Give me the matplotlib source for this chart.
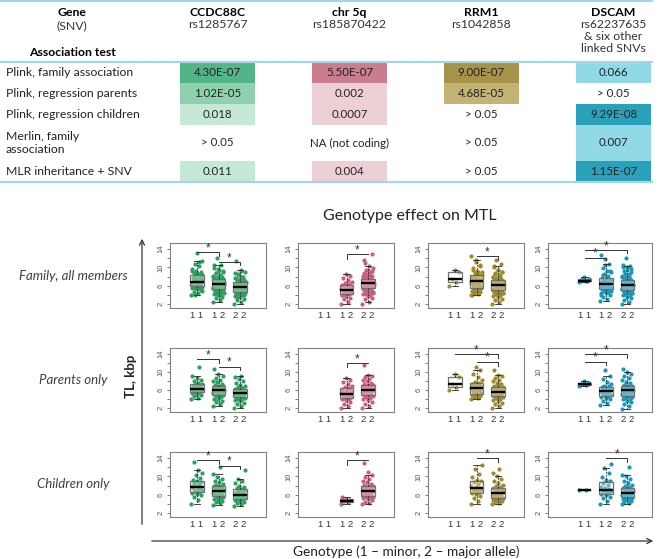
import matplotlib
matplotlib.use("Agg")
import matplotlib.pyplot as plt
import numpy as np
from matplotlib.patches import Rectangle

plt.rcParams['font.family'] = ['Lato', 'DejaVu Sans']

# ---- table data ----
genes = ["CCDC88C", "chr 5q", "RRM1", "DSCAM"]
snvs = ["rs1285767", "rs185870422", "rs1042858", "rs62237635\n& six other\nlinked SNVs"]
tests = ["Plink, family association", "Plink, regression parents",
         "Plink, regression children", "Merlin, family\nassociation",
         "MLR inheritance + SNV"]
pvals = [["4.30E-07", "5.50E-07", "9.00E-07", "0.066"],
         ["1.02E-05", "0.002", "4.68E-05", "> 0.05"],
         ["0.018", "0.0007", "> 0.05", "9.29E-08"],
         ["> 0.05", "NA (not coding)", "> 0.05", "0.007"],
         ["0.011", "0.004", "> 0.05", "1.15E-07"]]

# ---- telomere length (kbp) per group: parents / children ----
ccdc_p11 = [3.9, 4.3, 4.7, 5.0, 5.2, 5.4, 5.5, 5.6, 5.7, 5.8, 5.9, 6.0, 6.1, 6.2,
            6.2, 6.3, 6.5, 6.7, 6.9, 7.1, 7.3, 7.4, 7.6, 7.9, 8.3, 8.7, 9.1, 11.2]
ccdc_c11 = [3.9, 4.8, 5.6, 5.9, 6.2, 6.4, 6.5, 6.8, 7.0, 7.2, 7.5, 7.6, 7.8, 8.0,
            8.3, 8.6, 8.8, 9.0, 9.2, 9.6, 10.2, 10.8, 11.4, 13.1]
ccdc_p12 = [2.5, 2.9, 3.3, 3.6, 3.9, 4.1, 4.4, 4.6, 4.8, 4.9, 5.0, 5.1, 5.3, 5.4,
            5.5, 5.6, 5.7, 5.8, 5.9, 6.0, 6.0, 6.1, 6.2, 6.3, 6.4, 6.5, 6.6, 6.7,
            6.8, 6.9, 7.0, 7.2, 7.4, 7.7, 8.0, 8.3, 8.7, 9.1, 9.6, 10.6]
ccdc_c12 = [3.7, 4.1, 4.4, 4.7, 4.9, 5.1, 5.3, 5.4, 5.5, 5.7, 5.9, 6.0, 6.2, 6.3,
            6.5, 6.6, 6.7, 6.8, 6.8, 6.9, 7.0, 7.1, 7.3, 7.4, 7.5, 7.7, 7.8, 7.9,
            8.1, 8.4, 8.7, 9.0, 9.4, 9.9, 10.5, 12.0]
ccdc_p22 = [2.0, 2.4, 2.9, 3.2, 3.5, 3.7, 3.9, 4.1, 4.3, 4.4, 4.5, 4.6, 4.8, 4.9,
            5.0, 5.1, 5.2, 5.3, 5.3, 5.4, 5.5, 5.6, 5.8, 5.9, 6.0, 6.2, 6.3, 6.4,
            6.6, 6.9, 7.2, 7.6, 8.0, 8.4, 8.8, 9.1]
ccdc_c22 = [3.6, 3.9, 4.2, 4.5, 4.7, 4.9, 5.0, 5.1, 5.3, 5.4, 5.6, 5.7, 5.8, 5.9,
            6.0, 6.0, 6.1, 6.3, 6.5, 6.7, 6.9, 7.1, 7.2, 7.4, 7.7, 8.0, 8.5, 9.0,
            9.4, 11.3]

chr5_p12 = [2.0, 2.5, 3.0, 3.4, 3.7, 3.9, 4.1, 4.2, 4.4, 4.6, 4.8, 5.0, 5.1, 5.3,
            5.4, 5.6, 5.8, 6.0, 6.2, 6.4, 6.6, 6.9, 7.3, 7.7, 8.2, 8.6]
chr5_c12 = [4.0, 4.3, 4.6, 4.8, 5.1, 5.5]
chr5_p22 = [2.0, 2.5, 3.0, 3.4, 3.8, 4.1, 4.3, 4.5, 4.7, 4.9, 5.0, 5.1, 5.3, 5.4,
            5.5, 5.6, 5.8, 5.9, 6.0, 6.1, 6.1, 6.2, 6.4, 6.5, 6.6, 6.7, 6.8, 6.9,
            7.0, 7.1, 7.2, 7.4, 7.6, 7.9, 8.2, 8.5, 8.8, 9.1, 9.4, 11.5]
chr5_c22 = [3.9, 4.2, 4.5, 4.8, 5.0, 5.2, 5.4, 5.5, 5.6, 5.7, 5.8, 5.9, 6.0, 6.1,
            6.2, 6.4, 6.5, 6.6, 6.7, 6.8, 6.8, 6.9, 7.0, 7.1, 7.2, 7.3, 7.4, 7.5,
            7.7, 7.8, 7.9, 8.1, 8.4, 8.7, 9.0, 9.4, 9.8, 10.3, 11.0, 13.0]

rrm_p11 = [6.0, 6.7, 7.4, 8.9, 9.5]
rrm_p12 = [3.9, 4.2, 4.4, 4.6, 4.8, 4.9, 5.0, 5.2, 5.4, 5.6, 5.8, 6.1, 6.3, 6.5,
           6.7, 6.9, 7.0, 7.2, 7.3, 7.5, 7.8, 8.3, 8.9, 9.5, 10.4, 11.1]
rrm_c12 = [4.0, 4.6, 5.3, 5.8, 6.2, 6.4, 6.6, 6.8, 7.0, 7.2, 7.3, 7.5, 7.7, 8.0,
           8.3, 8.7, 9.0, 9.3, 9.8, 10.5, 11.6, 12.5]
rrm_p22 = [2.0, 2.4, 2.8, 3.2, 3.5, 3.8, 4.0, 4.2, 4.4, 4.5, 4.6, 4.7, 4.8, 5.0,
           5.1, 5.2, 5.3, 5.4, 5.5, 5.6, 5.7, 5.8, 5.9, 6.0, 6.1, 6.3, 6.4, 6.5,
           6.6, 6.7, 6.8, 7.0, 7.3, 7.6, 7.9, 8.3, 8.7, 9.0, 9.4, 10.4]
rrm_c22 = [3.9, 4.2, 4.4, 4.6, 4.8, 4.9, 5.0, 5.1, 5.2, 5.4, 5.5, 5.7, 5.8, 5.9,
           6.1, 6.2, 6.3, 6.4, 6.4, 6.5, 6.6, 6.8, 6.9, 7.0, 7.2, 7.3, 7.5, 7.6,
           7.9, 8.2, 8.6, 9.0, 9.5, 10.1, 10.8, 11.7]

dscam_p11 = [6.9, 7.1, 7.4, 7.5, 8.0]
dscam_c11 = [7.0, 7.0]
dscam_p12 = [2.7, 3.2, 3.6, 4.0, 4.3, 4.5, 4.7, 4.8, 4.9, 5.1, 5.3, 5.5, 5.6, 5.8,
             5.9, 6.0, 6.2, 6.4, 6.6, 6.8, 7.0, 7.3, 7.8, 8.4, 9.1, 10.5]
dscam_c12 = [4.0, 4.6, 5.2, 5.6, 5.9, 6.1, 6.3, 6.5, 6.7, 6.9, 7.0, 7.2, 7.4, 7.7,
             8.1, 8.5, 8.9, 9.3, 9.9, 10.8, 11.9, 12.8]
dscam_p22 = [1.9, 2.4, 2.9, 3.3, 3.6, 3.9, 4.1, 4.3, 4.5, 4.6, 4.7, 4.9, 5.0, 5.2,
             5.3, 5.4, 5.5, 5.6, 5.7, 5.8, 6.0, 6.1, 6.2, 6.3, 6.4, 6.5, 6.6, 6.7,
             6.8, 6.9, 7.0, 7.2, 7.5, 7.8, 8.2, 8.6, 9.1, 9.6, 10.1, 10.6]
dscam_c22 = [3.9, 4.1, 4.4, 4.6, 4.8, 5.0, 5.1, 5.2, 5.3, 5.5, 5.6, 5.7, 5.9, 6.0,
             6.1, 6.2, 6.3, 6.4, 6.4, 6.5, 6.6, 6.8, 6.9, 7.0, 7.2, 7.3, 7.5, 7.7,
             7.9, 8.2, 8.6, 9.0, 9.5, 10.0, 10.4, 12.0]

genotypes = ["1 1", "1 2", "2 2"]
row_names = ["Family, all members", "Parents only", "Children only"]

parents = [[ccdc_p11, ccdc_p12, ccdc_p22],
           [[], chr5_p12, chr5_p22],
           [rrm_p11, rrm_p12, rrm_p22],
           [dscam_p11, dscam_p12, dscam_p22]]
children = [[ccdc_c11, ccdc_c12, ccdc_c22],
            [[], chr5_c12, chr5_c22],
            [[], rrm_c12, rrm_c22],
            [dscam_c11, dscam_c12, dscam_c22]]
family = [[p + c for p, c in zip(pg, cg)] for pg, cg in zip(parents, children)]
panels = [family, parents, children]

# significance brackets per (row, gene): (g1, g2, height, drop_left, drop_right)
brackets = {
    (0, 0): [(1, 2, 13.3, 0, 0.8), (2, 3, 11.2, 0, 0.7)],
    (0, 1): [(2, 3, 12.9, 1.0, 0)],
    (0, 2): [(2, 3, 12.5, 0, 0.8)],
    (0, 3): [(1, 3, 13.8, 0, 0.7), (1, 2, 12.1, 0, 0.6)],
    (1, 0): [(1, 2, 12.8, 0, 0.9), (2, 3, 11.2, 0, 0.8)],
    (1, 1): [(2, 3, 11.9, 0.9, 0)],
    (1, 2): [(1, 3, 14.0, 0, 0.9), (2, 3, 12.3, 0, 0.9)],
    (1, 3): [(1, 3, 14.0, 0, 0.8), (1, 2, 12.3, 0, 0.8)],
    (2, 0): [(1, 2, 13.6, 0, 0.8), (2, 3, 12.3, 0, 0.8)],
    (2, 1): [(2, 3, 13.6, 1.1, 0)],
    (2, 2): [(2, 3, 14.0, 0, 0.8)],
    (2, 3): [(2, 3, 14.0, 0, 0.8)],
}

point_colors = ["#2f9e60", "#c8607b", "#9d8a2f", "#1b98b6"]
cell_colors = [["#53b585", "#c97d8e", "#a6934a", "#92d9e8"],
               ["#8fd1ae", "#edcfd6", "#c3b473", None],
               ["#c5e9d6", "#edcfd6", None, "#2ba1b9"],
               [None, None, None, "#92d9e8"],
               ["#c5e9d6", "#edcfd6", None, "#2ba1b9"]]

W, H = 658, 559
fig = plt.figure(figsize=(W / 100, H / 100), dpi=100)
bg = fig.add_axes([0, 0, 1, 1])
bg.set_xlim(0, W)
bg.set_ylim(H, 0)
bg.axis("off")

# ---- table ----
col_x = [217.5, 349.5, 481, 613.5]
cell_w = 75
row_edges = [62, 83, 104, 125, 161, 182]
line_c = "#a6d5e6"
for yy in [1, 62, 182]:
    bg.plot([0, 652], [yy, yy], color=line_c, lw=1.6, clip_on=False, zorder=3)

bg.text(72, 12, "Gene", ha="center", va="center", fontsize=8.8, fontweight="bold")
bg.text(72, 26, "(SNV)", ha="center", va="center", fontsize=8.8, color="#333")
bg.text(72, 52, "Association test", ha="center", va="center", fontsize=8.8, fontweight="bold")
for j, g in enumerate(genes):
    bg.text(col_x[j], 12, g, ha="center", va="center", fontsize=8.8, fontweight="bold")
    bg.text(col_x[j], 19.5, snvs[j], ha="center", va="top", fontsize=8.8,
            color="#333", linespacing=1.08)

for i, t in enumerate(tests):
    y0, y1 = row_edges[i], row_edges[i + 1]
    bg.text(6, (y0 + y1) / 2, t, ha="left", va="center", fontsize=8.8,
            color="#222", linespacing=1.25)
    for j in range(4):
        c = cell_colors[i][j]
        if c:
            bg.add_patch(Rectangle((col_x[j] - cell_w / 2, y0), cell_w, y1 - y0,
                                   facecolor=c, edgecolor="none", zorder=1))
        bg.text(col_x[j], (y0 + y1) / 2, pvals[i][j], ha="center", va="center",
                fontsize=8.3, color="#222", zorder=2)

# ---- box plot section ----
bg.text(410, 216, "Genotype effect on MTL", ha="center", va="center", fontsize=11.5, color="#222")
row_y = [(243, 308), (348, 412), (452, 517)]
col_px = [(170, 266), (298, 394), (428, 524), (548, 652)]
xlims = [(-0.26, 4.21), (-0.26, 4.21), (-0.26, 4.21), (-0.72, 4.16)]
for r, name in enumerate(row_names):
    bg.text(73, (row_y[r][0] + row_y[r][1]) / 2, name, ha="center", va="center",
            fontsize=9.5, style="italic", color="#404040")
bg.text(131, 376, "TL, kbp", ha="center", va="center", rotation=90, fontsize=9.5,
        fontweight="bold", color="#222")
bg.text(406, 552, "Genotype (1 \u2013 minor, 2 \u2013 major allele)", ha="center",
        va="center", fontsize=9.8, color="#222")
bg.annotate("", xy=(142, 236), xytext=(142, 527),
            arrowprops=dict(arrowstyle="->", lw=0.9, color="#333", mutation_scale=9))
bg.annotate("", xy=(656, 541), xytext=(149, 541),
            arrowprops=dict(arrowstyle="->", lw=0.9, color="#333", mutation_scale=9))

for r in range(3):
    for c in range(4):
        l, rr = col_px[c]
        t, b = row_y[r]
        ax = fig.add_axes([l / W, 1 - b / H, (rr - l) / W, (b - t) / H])
        groups = panels[r][c]
        for k, vals in enumerate(groups):
            if len(vals) == 0:
                continue
            v = np.array(vals)
            off = ((np.arange(len(v)) * 0.6180339) % 1 - 0.5) * 0.52
            ax.scatter(k + 1 + off, v, s=9, color=point_colors[c], lw=0, zorder=2)
        pos = [k + 1 for k, g in enumerate(groups) if len(g)]
        data = [g for g in groups if len(g)]
        ax.boxplot(data, positions=pos, widths=0.62, showfliers=False, patch_artist=True,
                   boxprops=dict(facecolor=(1, 1, 1, 0.3), edgecolor="#707070", lw=0.9),
                   medianprops=dict(color="black", lw=1.7),
                   whiskerprops=dict(color="#222", lw=0.6, ls=(0, (2, 1.5))),
                   capprops=dict(color="#222", lw=0.6), capwidths=0.3, zorder=3)
        for g1, g2, h, dl, dr in brackets[(r, c)]:
            ax.plot([g1, g1, g2, g2], [h - dl, h, h, h - dr], color="#333", lw=0.7, zorder=4)
            ax.text((g1 + g2) / 2, h + 0.85, "*", ha="center", va="center", fontsize=8.5,
                    color="#333", family="Liberation Sans")
        ax.set_xlim(*xlims[c])
        ax.set_ylim(1.13, 15.31)
        ax.set_xticks([1, 2, 3])
        ax.set_xticklabels(genotypes, fontsize=6.8, color="#333", family="Liberation Sans")
        ax.set_yticks(range(2, 15, 2))
        ax.set_yticklabels(["2", "", "6", "", "10", "", "14"], rotation=90, va="center",
                           fontsize=5.5, color="#555", family="Liberation Sans")
        ax.tick_params(axis="x", length=0, pad=2)
        ax.tick_params(axis="y", length=2.5, width=0.6, color="#666", pad=1.5)
        for s in ax.spines.values():
            s.set_color("#808080")
            s.set_linewidth(0.8)

fig.savefig("out.png", dpi=100)
